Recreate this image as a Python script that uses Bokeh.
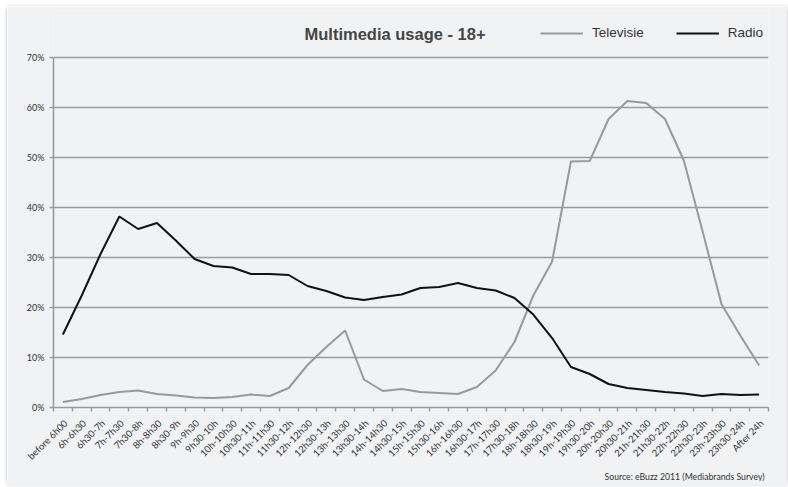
from bokeh.plotting import figure
from bokeh.models import FixedTicker, Label, Legend, LegendItem, Range1d, Title
from bokeh.embed import file_html
from bokeh.resources import INLINE
import math

# Half-hour slots of the day
slots = ["before 6h00", "6h-6h30", "6h30-7h", "7h-7h30", "7h30-8h", "8h-8h30",
         "8h30-9h", "9h-9h30", "9h30-10h", "10h-10h30", "10h30-11h", "11h-11h30",
         "11h30-12h", "12h-12h30", "12h30-13h", "13h-13h30", "13h30-14h",
         "14h-14h30", "14h30-15h", "15h-15h30", "15h30-16h", "16h-16h30",
         "16h30-17h", "17h-17h30", "17h30-18h", "18h-18h30", "18h30-19h",
         "19h-19h30", "19h30-20h", "20h-20h30", "20h30-21h", "21h-21h30",
         "21h30-22h", "22h-22h30", "22h30-23h", "23h-23h30", "23h30-24h",
         "After 24h"]

# Share of the 18+ audience (%)
televisie = [1.1, 1.7, 2.5, 3.1, 3.4, 2.7, 2.4, 2.0, 1.9, 2.1, 2.6, 2.3, 3.9,
             8.5, 12.1, 15.4, 5.6, 3.3, 3.7, 3.1, 2.9, 2.7, 4.1, 7.4, 13.1,
             22.4, 29.2, 49.2, 49.3, 57.7, 61.3, 60.9, 57.7, 49.4, 35.2, 20.7,
             14.4, 8.4]
radio = [14.6, 22.4, 30.7, 38.2, 35.7, 36.9, 33.4, 29.7, 28.3, 28.0, 26.7,
         26.7, 26.5, 24.3, 23.3, 22.0, 21.5, 22.1, 22.6, 23.9, 24.1, 24.9,
         23.9, 23.4, 21.9, 18.6, 13.9, 8.1, 6.7, 4.7, 3.9, 3.5, 3.1, 2.8,
         2.3, 2.7, 2.5, 2.6]

y_ticks = [0, 10, 20, 30, 40, 50, 60, 70]

title_text = "Multimedia usage - 18+"
source_text = "Source: eBuzz 2011 (Mediabrands Survey)"

CARD = "#f1f2f4"
GRID = "#9a9a9a"
TEXT = "#333333"

n = len(slots)
xs = list(range(1, n + 1))
label_pos = [x + 0.15 for x in xs]

# The frame reaches up to the heading row; the value axis stops at 70 %
p = figure(width=780, height=475, output_backend="svg", toolbar_location=None,
           x_range=Range1d(0.5, n + 0.5), y_range=Range1d(0, 79.4),
           min_border_left=46, min_border_right=19,
           min_border_top=4, min_border_bottom=74,
           background_fill_color=CARD, border_fill_color=CARD,
           outline_line_color=None)
p.margin = (6, 1, 6, 7)
# card panel: a flat extension below the canvas plus a soft edge
p.styles = {"box-shadow": (f"0 4px 0 0 {CARD}, 0 0 3px rgba(0,0,0,0.18), "
                           "0 4px 3px rgba(0,0,0,0.18)")}

# Horizontal grid only
p.xgrid.grid_line_color = None
p.ygrid.ticker = FixedTicker(ticks=y_ticks)
p.ygrid.grid_line_color = GRID
p.ygrid.grid_line_width = 1.6

# Y axis
p.yaxis.ticker = FixedTicker(ticks=y_ticks)
p.yaxis.bounds = (0, 70)
p.yaxis.major_label_overrides = {t: f"{t}%" for t in y_ticks}
p.yaxis.axis_line_color = GRID
p.yaxis.axis_line_width = 1.6
p.yaxis.major_tick_line_color = GRID
p.yaxis.major_tick_line_width = 1.4
p.yaxis.major_tick_out = 4
p.yaxis.major_tick_in = 0
p.yaxis.minor_tick_line_color = None
p.yaxis.major_label_standoff = 5
p.yaxis.major_label_text_font = "Lato"
p.yaxis.major_label_text_font_size = "9px"
p.yaxis.major_label_text_color = TEXT

# X axis: labels under each slot, tick marks at slot boundaries
p.xaxis.ticker = FixedTicker(ticks=label_pos,
                             minor_ticks=[i + 0.5 for i in range(n + 1)])
p.xaxis.major_label_overrides = {x: s for x, s in zip(label_pos, slots)}
p.xaxis.major_label_orientation = math.pi / 4
p.xaxis.axis_line_color = GRID
p.xaxis.axis_line_width = 1.6
p.xaxis.major_tick_line_color = None
p.xaxis.major_tick_out = 0
p.xaxis.major_tick_in = 0
p.xaxis.minor_tick_line_color = GRID
p.xaxis.minor_tick_line_width = 1.4
p.xaxis.minor_tick_out = 4
p.xaxis.minor_tick_in = 0
p.xaxis.major_label_standoff = 10
p.xaxis.major_label_text_font = "Lato"
p.xaxis.major_label_text_font_size = "9.5px"
p.xaxis.major_label_text_color = TEXT

tv = p.line(xs, televisie, line_color="#999999", line_width=2)
rd = p.line(xs, radio, line_color="#111111", line_width=2)

# Heading row
p.add_layout(Label(x=251, y=74.8, x_units="screen", y_units="data",
                   text=title_text, text_font="Liberation Sans",
                   text_font_size="16.5px", text_font_style="bold",
                   text_color="#454545", text_baseline="middle"))

legend = Legend(items=[LegendItem(label="Televisie", renderers=[tv]),
                       LegendItem(label="Radio", renderers=[rd])],
                orientation="horizontal", location=(487, 367),
                glyph_width=43, glyph_height=14, label_height=14,
                label_standoff=9, spacing=32,
                padding=0, margin=0, background_fill_alpha=0,
                border_line_color=None,
                label_text_font="Liberation Sans", label_text_font_size="13.5px",
                label_text_color=TEXT)
p.add_layout(legend)

p.add_layout(Title(text=source_text, align="right", text_font="Lato",
                   text_font_size="8.7px", text_font_style="normal",
                   text_color=TEXT, standoff=0, offset=4), "below")

open("out.html", "w").write(file_html(p, INLINE))
